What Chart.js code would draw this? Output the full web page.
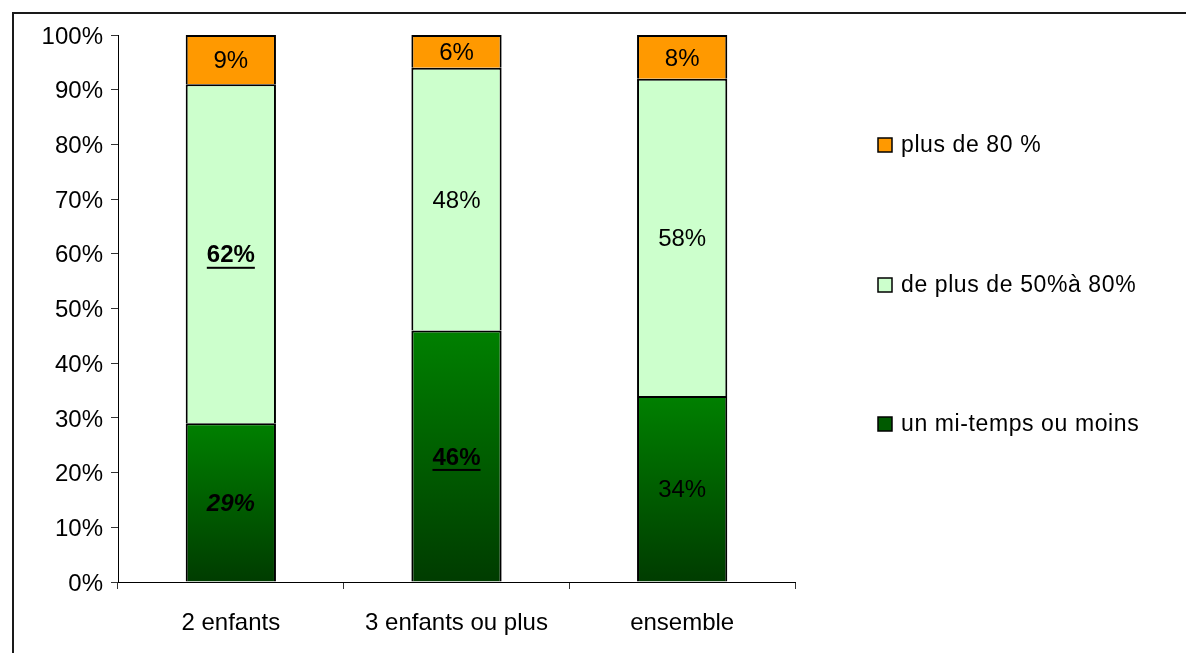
<!DOCTYPE html>
<html>
<head>
<meta charset="utf-8">
<script src="https://cdn.jsdelivr.net/npm/chart.js@4.4.1/dist/chart.umd.min.js"></script>
<style>
  html, body { margin: 0; padding: 0; background: #fff; }
  #wrap { position: relative; width: 1186px; height: 653px; overflow: hidden; }
  #frame { position: absolute; left: 12px; top: 12px; width: 1300px; height: 800px;
           border-top: 2px solid #1a1a1a; border-left: 2px solid #1a1a1a; box-sizing: border-box; }
  canvas { position: absolute; left: 0; top: 0; }
</style>
</head>
<body>
<div id="wrap">
  <div id="frame"></div>
  <canvas id="c" width="1186" height="653"></canvas>
</div>
<script>
const categories = ["2 enfants", "3 enfants ou plus", "ensemble"];
const seriesNames = ["un mi-temps ou moins", "de plus de 50%à 80%", "plus de 80 %"];
const miTemps = [29, 46, 34];
const de50a80 = [62, 48, 58];
const plus80 = [9, 6, 8];
const yTicks = [0, 10, 20, 30, 40, 50, 60, 70, 80, 90, 100];
// label emphasis per series/category: "n" normal, "bi" bold italic, "bu" bold underlined
const labelStyles = [["bi", "bu", "n"], ["bu", "n", "n"], ["n", "n", "n"]];

const FONT = "'Liberation Sans', Arial, sans-serif";

function greenGradient(ctx) {
  const chart = ctx.chart;
  const y = chart.scales && chart.scales.y;
  if (!y || ctx.dataIndex === undefined) return '#007000';
  const v = ctx.dataset.data[ctx.dataIndex];
  const top = y.getPixelForValue(v);
  const bottom = y.getPixelForValue(0);
  if (!isFinite(top) || !isFinite(bottom) || top === bottom) return '#007000';
  const g = chart.ctx.createLinearGradient(0, top, 0, bottom);
  g.addColorStop(0, 'rgb(0,128,0)');
  g.addColorStop(1, 'rgb(0,60,0)');
  return g;
}

const labelPlugin = {
  id: 'segLabels',
  afterDatasetsDraw(chart) {
    const c = chart.ctx;
    c.save();
    c.textAlign = 'center';
    c.textBaseline = 'middle';
    c.fillStyle = '#000';
    chart.data.datasets.forEach((ds, di) => {
      const meta = chart.getDatasetMeta(di);
      meta.data.forEach((el, i) => {
        const st = labelStyles[di][i];
        const weight = st === 'n' ? 'normal' : 'bold';
        const style = st === 'bi' ? 'italic ' : '';
        c.font = style + weight + ' 24px ' + FONT;
        const txt = ds.data[i] + '%';
        const cx = el.x;
        const cy = (el.y + el.base) / 2 + 2;
        c.fillText(txt, cx, cy);
        if (st === 'bu') {
          const w = c.measureText(txt).width;
          c.fillRect(cx - w / 2, cy + 11, w, 2);
        }
      });
    });
    c.restore();
  }
};

const legendPlugin = {
  id: 'customLegend',
  afterDraw(chart) {
    const c = chart.ctx;
    const order = [2, 1, 0];
    const ys = [145, 285, 424];
    c.save();
    c.font = '23px ' + FONT;
    if ('letterSpacing' in c) c.letterSpacing = '0.6px';
    c.textAlign = 'left';
    c.textBaseline = 'middle';
    order.forEach((di, k) => {
      const ds = chart.data.datasets[di];
      const y = ys[k];
      c.fillStyle = di === 0 ? 'rgb(0,90,0)' : ds.backgroundColor;
      c.fillRect(878, y - 7, 14, 14);
      c.strokeStyle = '#000';
      c.lineWidth = 1.5;
      c.strokeRect(878, y - 7, 14, 14);
      c.fillStyle = '#000';
      c.fillText(ds.label, 901, y + 1);
    });
    c.restore();
  }
};

new Chart(document.getElementById('c'), {
  type: 'bar',
  data: {
    labels: categories,
    datasets: [
      { label: seriesNames[0], data: miTemps, backgroundColor: greenGradient, borderColor: '#000', borderWidth: 2 },
      { label: seriesNames[1], data: de50a80, backgroundColor: '#CCFFCC', borderColor: '#000', borderWidth: 2 },
      { label: seriesNames[2], data: plus80, backgroundColor: '#FF9900', borderColor: '#000', borderWidth: 2 }
    ]
  },
  options: {
    responsive: false,
    animation: false,
    devicePixelRatio: 1,
    layout: { padding: { left: 0, right: 391, top: 35, bottom: 0 } },
    plugins: { legend: { display: false }, tooltip: { enabled: false } },
    datasets: { bar: { barPercentage: 0.4, categoryPercentage: 1 } },
    scales: {
      x: {
        stacked: true,
        grid: { display: true, drawOnChartArea: false, offset: true, tickLength: 7, color: '#333' },
        border: { display: true, color: '#000', width: 1 },
        ticks: { color: '#000', font: { family: FONT, size: 24 }, padding: 20, maxRotation: 0 },
        afterFit(s) { s.height = 71; }
      },
      y: {
        stacked: true,
        min: 0, max: 100,
        afterBuildTicks(s) { s.ticks = yTicks.map(v => ({ value: v })); },
        grid: { display: true, drawOnChartArea: false, tickLength: 7, color: '#333' },
        border: { display: true, color: '#000', width: 1 },
        ticks: { color: '#000', font: { family: FONT, size: 24 }, padding: 8, labelOffset: 2, callback: v => v + '%' },
        afterFit(s) { s.width = 118; }
      }
    }
  },
  plugins: [labelPlugin, legendPlugin]
});
</script>
</body>
</html>
